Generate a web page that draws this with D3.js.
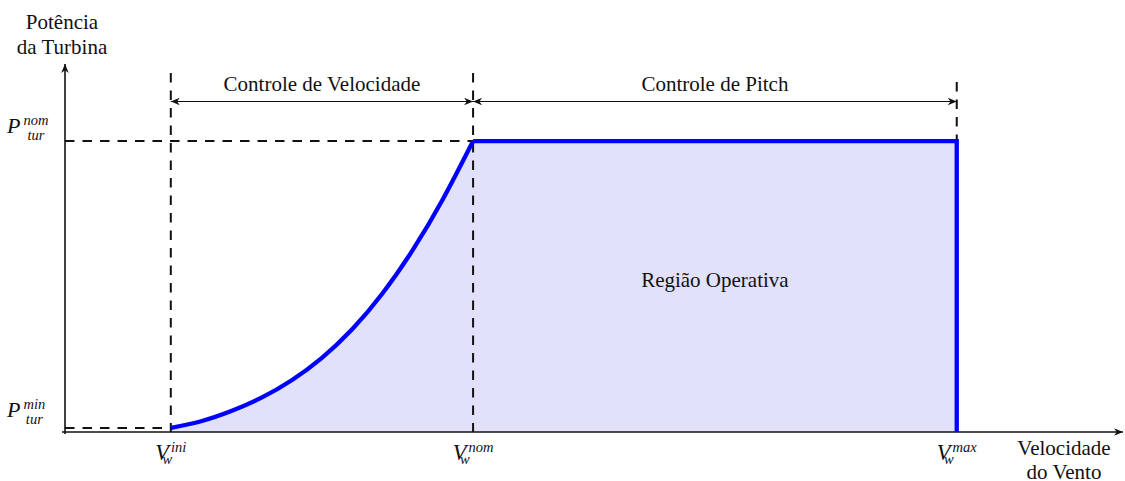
<!DOCTYPE html>
<html>
<head>
<meta charset="utf-8">
<script src="https://cdn.jsdelivr.net/npm/d3@7"></script>
<style>
body { margin: 0; background: #fff; }
</style>
</head>
<body>
<script>
var width = 1125,
    height = 481;

// wind speeds marked on the x axis (V_w^ini, V_w^nom, V_w^max)
var speedNames = ["ini", "nom", "max"];
var speedValues = [2.8, 10.8, 23.6];

// power levels marked on the y axis (P_tur^nom, P_tur^min), p.u.
var powerNames = ["nom", "min"];
var powerValues = [1.0, 0.014];

// power curve, between V_ini and V_nom
var curveSpeed = [2.8, 3.6, 4.4, 5.2, 6.0, 6.8, 7.6, 8.4, 9.2, 10.0, 10.8];
var curvePower = [0.014, 0.037, 0.072, 0.118, 0.178, 0.255, 0.353, 0.476, 0.625, 0.800, 1.0];

var regionNames = ["Controle de Velocidade", "Controle de Pitch"];

var serif = '"Liberation Serif", "Times New Roman", "DejaVu Serif", serif';

// axes
var x = d3.scaleLinear().domain([0, 28]).range([65, 1123]);
var y = d3.scaleLinear().domain([0, 1.265]).range([432, 64]);

var svg = d3.select("body").append("svg")
    .attr("width", width)
    .attr("height", height)
    .style("font-family", serif);

var defs = svg.append("defs");
defs.append("marker")
    .attr("id", "tip")
    .attr("viewBox", "-10 -5 11 10")
    .attr("refX", 0)
    .attr("refY", 0)
    .attr("markerWidth", 11)
    .attr("markerHeight", 10)
    .attr("markerUnits", "userSpaceOnUse")
    .attr("orient", "auto-start-reverse")
  .append("path")
    .attr("d", "M0,0 L-9,-3.8 L-6.3,0 L-9,3.8 Z")
    .attr("fill", "#111");

var curve = curveSpeed.map(function (s, i) { return [s, curvePower[i]]; });
var vIni = speedValues[0], vNom = speedValues[1], vMax = speedValues[2];
var pNom = powerValues[0], pMin = powerValues[1];

// ****************** shaded operating region ******************
var area = d3.area()
    .x(function (d) { return x(d[0]); })
    .y0(y(0))
    .y1(function (d) { return y(d[1]); });

svg.append("path")
    .attr("d", area.curve(d3.curveNatural)(curve))
    .attr("fill", "#e1e1fc");

svg.append("path")
    .attr("d", area.curve(d3.curveLinear)([[vNom - 0.02, pNom], [vMax, pNom]]))
    .attr("fill", "#e1e1fc");

// ****************** dashed guides ******************
var guides = svg.append("g")
    .attr("fill", "none")
    .attr("stroke", "#111")
    .attr("stroke-width", 2)
    .attr("stroke-dasharray", "9.5,8");

guides.append("line")
    .attr("x1", x(vIni)).attr("x2", x(vIni))
    .attr("y1", 73).attr("y2", y(0));
guides.append("line")
    .attr("x1", x(vNom)).attr("x2", x(vNom))
    .attr("y1", 73).attr("y2", y(0));
guides.append("line")
    .attr("x1", x(vMax)).attr("x2", x(vMax))
    .attr("y1", 82).attr("y2", y(pNom));
guides.append("line")
    .attr("x1", x(0)).attr("x2", x(vNom))
    .attr("y1", y(pNom)).attr("y2", y(pNom));
guides.append("line")
    .attr("x1", x(0)).attr("x2", x(vIni))
    .attr("y1", y(pMin)).attr("y2", y(pMin));

// ****************** axes ******************
svg.append("line")
    .attr("x1", x(0) - 3).attr("x2", x(28))
    .attr("y1", y(0)).attr("y2", y(0))
    .attr("stroke", "#111").attr("stroke-width", 1.6)
    .attr("marker-end", "url(#tip)");
svg.append("line")
    .attr("x1", x(0)).attr("x2", x(0))
    .attr("y1", y(0) + 2).attr("y2", y(1.265))
    .attr("stroke", "#111").attr("stroke-width", 1.6)
    .attr("marker-end", "url(#tip)");

// ****************** turbine power curve ******************
var line = d3.line()
    .x(function (d) { return x(d[0]); })
    .y(function (d) { return y(d[1]); });

svg.append("path")
    .attr("d", line.curve(d3.curveNatural)(curve))
    .attr("fill", "none")
    .attr("stroke", "#0000ff")
    .attr("stroke-width", 4.3);

svg.append("path")
    .attr("d", line.curve(d3.curveLinear)([[vNom, pNom], [vMax, pNom], [vMax, 0]]))
    .attr("fill", "none")
    .attr("stroke", "#0000ff")
    .attr("stroke-width", 4.3)
    .attr("stroke-linejoin", "miter");

// ****************** control regions ******************
var spans = [[vIni, vNom], [vNom, vMax]];
var dims = svg.append("g");

dims.selectAll("line")
    .data(spans)
    .enter().append("line")
    .attr("x1", function (d) { return x(d[0]); })
    .attr("x2", function (d) { return x(d[1]); })
    .attr("y1", 101.5).attr("y2", 101.5)
    .attr("stroke", "#111")
    .attr("stroke-width", 1.2)
    .attr("marker-start", "url(#tip)")
    .attr("marker-end", "url(#tip)");

dims.selectAll("text")
    .data(spans)
    .enter().append("text")
    .attr("x", function (d) { return (x(d[0]) + x(d[1])) / 2; })
    .attr("y", 91)
    .attr("text-anchor", "middle")
    .attr("font-size", 21)
    .attr("fill", "#111")
    .text(function (d, i) { return regionNames[i]; });

svg.append("text")
    .attr("x", (x(vNom) + x(vMax)) / 2)
    .attr("y", y(0.5))
    .attr("text-anchor", "middle")
    .attr("font-size", 21)
    .attr("fill", "#111")
    .text("Região Operativa");

// ****************** axis titles ******************
svg.append("text")
    .attr("text-anchor", "middle")
    .attr("font-size", 21)
    .attr("fill", "#111")
    .selectAll("tspan")
    .data(["Potência", "da Turbina"])
    .enter().append("tspan")
    .attr("x", 62)
    .attr("y", function (d, i) { return 29 + i * 25; })
    .text(function (d) { return d; });

svg.append("text")
    .attr("text-anchor", "middle")
    .attr("font-size", 21)
    .attr("fill", "#111")
    .selectAll("tspan")
    .data(["Velocidade", "do Vento"])
    .enter().append("tspan")
    .attr("x", 1064)
    .attr("y", function (d, i) { return 455 + i * 24; })
    .text(function (d) { return d; });

// ****************** tick labels ******************
// V_w^name under the x axis
speedValues.forEach(function (v, i) {
    var g = svg.append("g").attr("fill", "#111").attr("font-style", "italic");
    var big = g.append("text")
        .attr("font-size", 22.5)
        .attr("y", y(0) + 28)
        .text("V");
    var sup = g.append("text")
        .attr("font-size", 14.5)
        .attr("y", y(0) + 20)
        .text(speedNames[i]);
    var sub = g.append("text")
        .attr("font-size", 14.5)
        .attr("y", y(0) + 31.5)
        .text("w");
    var wV = big.node().getComputedTextLength(),
        wSup = sup.node().getComputedTextLength();
    var total = wV + 2 + wSup;
    var x0 = x(v) - total / 2;
    big.attr("x", x0);
    sup.attr("x", x0 + wV + 2);
    sub.attr("x", x0 + wV - 6.5);
});

// P_tur^name left of the y axis, scripts stacked and centred
powerValues.forEach(function (p, i) {
    var base = y(p) - (i === 0 ? 8.5 : 11);
    var g = svg.append("g").attr("fill", "#111").attr("font-style", "italic");
    var big = g.append("text")
        .attr("font-size", 22)
        .attr("x", 7)
        .attr("y", base)
        .text("P");
    var wP = big.node().getComputedTextLength();
    var sup = g.append("text")
        .attr("font-size", 14.5)
        .attr("text-anchor", "middle")
        .attr("y", base - 7.5)
        .text(powerNames[i]);
    var sub = g.append("text")
        .attr("font-size", 14.5)
        .attr("text-anchor", "middle")
        .attr("y", base + 7.5)
        .text("tur");
    var w = Math.max(sup.node().getComputedTextLength(), sub.node().getComputedTextLength());
    var cx = 7 + wP + 3 + w / 2;
    sup.attr("x", cx);
    sub.attr("x", cx);
});
</script>
</body>
</html>
